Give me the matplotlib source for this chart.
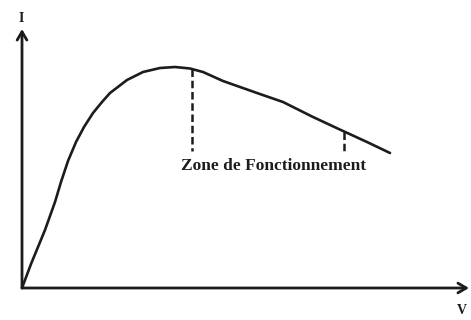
import matplotlib
matplotlib.use("Agg")
import matplotlib.pyplot as plt

# Curve I(V) (arbitrary units)
V = [0, 9, 23, 33, 39, 46, 54, 62, 71, 80, 88, 105, 121, 138, 153, 168, 181, 201, 235, 261, 291, 321, 345, 368]
I = [0, 24, 58, 86, 106, 127, 146, 161, 175, 186, 195, 208, 216, 220, 221, 219.5, 216, 207, 195, 186, 171, 157, 146, 135]

# Operating zone boundaries
zone_v = [170, 322]
zone_top = [219, 156]
zone_bottom = 137
zone_label = "Zone de Fonctionnement"
x_label = "V"
y_label = "I"

fig = plt.figure(figsize=(4.71, 3.20), dpi=100)
ax = fig.add_axes([0, 0, 1, 1])
ax.set_xlim(-22, 449)
ax.set_ylim(-32, 288)
ax.axis("off")

col = "#1c1c1c"
ax.plot(V, I, color=col, lw=1.9, solid_capstyle="round", solid_joinstyle="round")

for v, t in zip(zone_v, zone_top):
    ax.plot([v, v], [t, zone_bottom], color=col, lw=1.8, ls=(0, (3, 1.5)))

ax.text(252, 122, zone_label, ha="center", va="center",
        family="Liberation Serif", weight="bold", fontsize=12.5, color=col)

# Axes arrows
ax.annotate("", xy=(447, 0), xytext=(0, 0),
            arrowprops=dict(arrowstyle="->,head_length=0.6,head_width=0.35", color=col, lw=2.0,
                            shrinkA=0, shrinkB=0))
ax.annotate("", xy=(0, 259), xytext=(0, 0),
            arrowprops=dict(arrowstyle="->,head_length=0.6,head_width=0.35", color=col, lw=2.0,
                            shrinkA=0, shrinkB=0))

ax.text(-1, 270, y_label, ha="center", va="center", family="Liberation Serif",
        weight="bold", fontsize=10, color=col)
ax.text(440, -22, x_label, ha="center", va="center", family="Liberation Serif",
        weight="bold", fontsize=10, color=col)

fig.savefig("out.png", dpi=100, facecolor="white")
